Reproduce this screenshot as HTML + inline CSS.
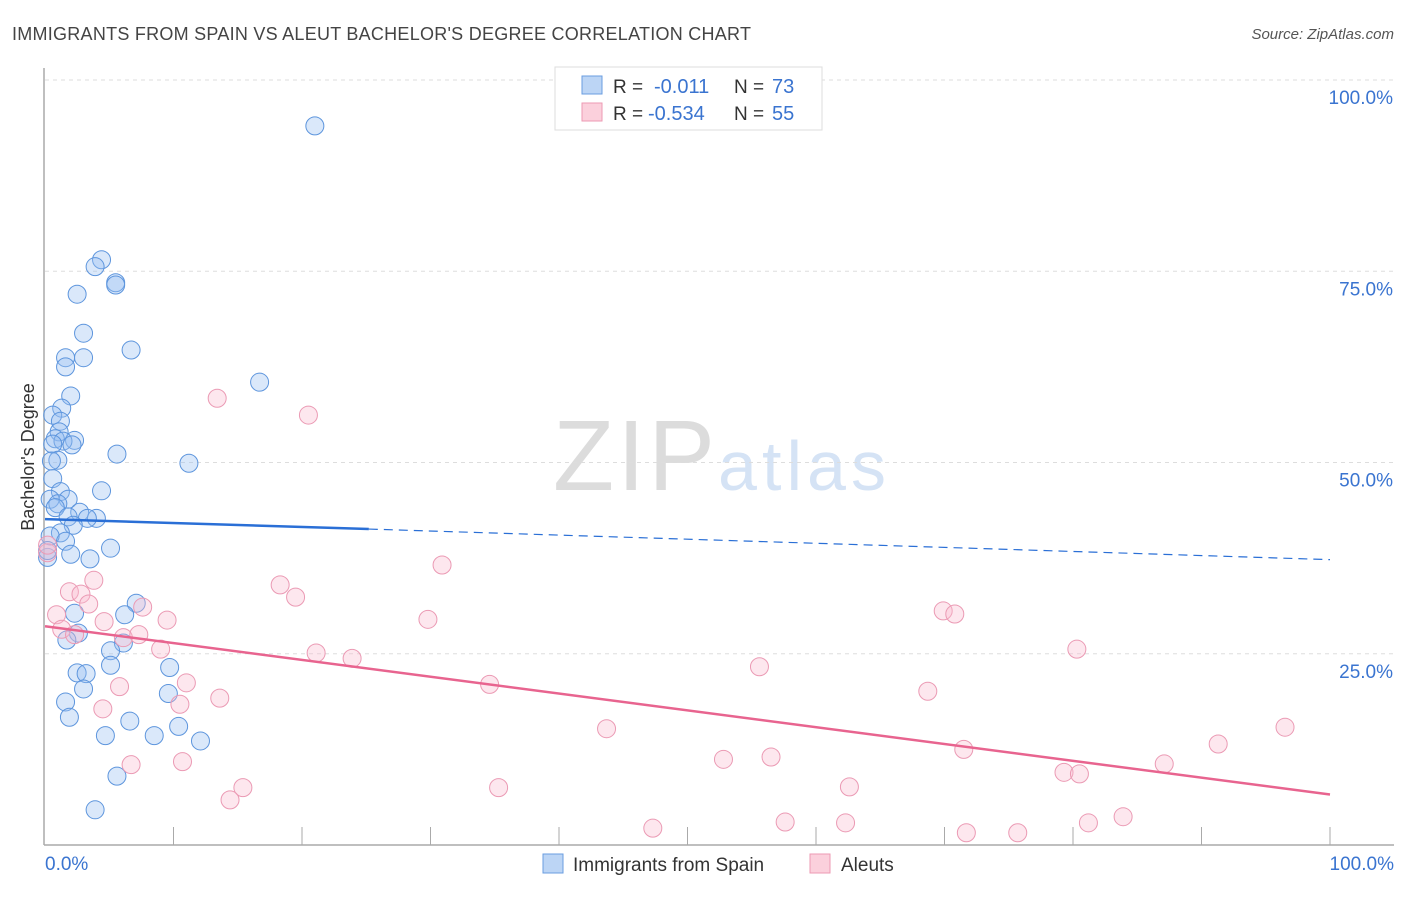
<!DOCTYPE html>
<html><head><meta charset="utf-8"><style>
body{margin:0;background:#fff;font-family:"Liberation Sans",sans-serif;}
svg text{font-family:"Liberation Sans",sans-serif;}
</style></head><body>
<svg width="1406" height="892">
<text x="12" y="40" font-size="18" fill="#444" textLength="739">IMMIGRANTS FROM SPAIN VS ALEUT BACHELOR'S DEGREE CORRELATION CHART</text>
<text x="1394" y="39" font-size="15" fill="#555" font-style="italic" text-anchor="end">Source: ZipAtlas.com</text>
<text x="553" y="490" font-size="100" fill="#dcdcdc" font-family="Liberation Serif" textLength="162">ZIP</text>
<text x="718" y="490" font-size="70" fill="#d5e3f5" textLength="168">atlas</text>
<g id="grid"></g>
<g id="axes"></g>
<g id="pts"></g>
<g id="trend"></g>
<text transform="translate(34,457) rotate(-90)" font-size="18" fill="#333" text-anchor="middle">Bachelor's Degree</text>
<text x="45" y="870" font-size="19" fill="#3a74d0">0.0%</text>
<text x="1394" y="870" font-size="19" fill="#3a74d0" text-anchor="end">100.0%</text>
<g>
<rect x="555" y="67" width="267" height="63" fill="#fff" stroke="#ddd"/>
<rect x="582" y="76" width="20" height="18" fill="#bcd5f5" stroke="#6a9de0"/>
<rect x="582" y="103" width="20" height="18" fill="#fbd0dc" stroke="#ec9ab3"/>
<text x="613" y="93" font-size="19" fill="#333">R =</text>
<text x="654" y="93" font-size="20" fill="#3a74d0">-0.011</text>
<text x="734" y="93" font-size="19" fill="#333">N =</text>
<text x="772" y="93" font-size="20" fill="#3a74d0">73</text>
<text x="613" y="120" font-size="19" fill="#333">R =</text>
<text x="648" y="120" font-size="20" fill="#3a74d0">-0.534</text>
<text x="734" y="120" font-size="19" fill="#333">N =</text>
<text x="772" y="120" font-size="20" fill="#3a74d0">55</text>
</g>
<g>
<rect x="543" y="854" width="20" height="19" fill="#bcd5f5" stroke="#6a9de0"/>
<text x="573" y="871" font-size="19" fill="#333">Immigrants from Spain</text>
<rect x="810" y="854" width="20" height="19" fill="#fbd0dc" stroke="#ec9ab3"/>
<text x="841" y="871" font-size="19" fill="#333">Aleuts</text>
</g>
</svg>
<script>
const yTicks=[25,50,75,100];
const yTickLabels=["25.0%","50.0%","75.0%","100.0%"];
const blueX=[21.0,4.4,3.9,5.5,5.5,2.5,3.0,6.7,1.6,3.0,1.6,16.7,2.0,1.3,0.6,1.2,1.1,2.3,0.8,1.4,2.1,5.6,0.6,1.0,0.5,11.2,0.6,4.4,1.2,1.8,0.4,1.0,0.8,2.7,1.8,4.0,3.3,2.2,1.2,0.4,1.6,5.1,3.5,2.0,0.2,0.2,7.1,6.2,2.3,2.6,1.7,6.1,5.1,5.1,2.5,3.2,3.0,9.7,9.6,1.6,1.9,6.6,10.4,4.7,8.5,12.1,5.6,3.9];
const blueY=[94.0,76.5,75.6,73.5,73.2,72.0,66.9,64.7,63.7,63.7,62.5,60.5,58.7,57.1,56.2,55.4,54.0,52.9,53.1,52.8,52.3,51.1,52.4,50.3,50.2,49.9,47.9,46.3,46.2,45.2,45.2,44.6,44.1,43.5,42.9,42.7,42.7,41.8,40.8,40.4,39.7,38.8,37.4,38.0,37.6,38.5,31.6,30.1,30.3,27.7,26.8,26.4,25.4,23.5,22.5,22.4,20.4,23.2,19.8,18.7,16.7,16.2,15.5,14.3,14.3,13.6,9.0,4.6];
const pinkX=[13.4,20.5,30.9,18.3,19.5,3.8,1.9,2.8,3.4,7.6,9.5,4.6,0.9,1.3,2.3,6.1,7.3,29.8,69.9,70.8,80.3,21.1,23.9,9.0,11.0,5.8,13.6,10.5,4.5,34.6,55.6,68.7,43.7,96.5,91.3,71.5,56.5,52.8,79.3,80.5,87.1,6.7,10.7,15.4,14.4,35.3,62.6,47.3,57.6,62.3,71.7,75.7,81.2,83.9,0.2,0.2];
const pinkY=[58.4,56.2,36.6,34.0,32.4,34.6,33.1,32.8,31.5,31.1,29.4,29.2,30.1,28.2,27.5,27.1,27.5,29.5,30.6,30.2,25.6,25.1,24.4,25.6,21.2,20.7,19.2,18.4,17.8,21.0,23.3,20.1,15.2,15.4,13.2,12.5,11.5,11.2,9.5,9.3,10.6,10.5,10.9,7.5,5.9,7.5,7.6,2.2,3.0,2.9,1.6,1.6,2.9,3.7,38.2,39.2];
const blueTrend=[[0,42.6],[25.2,41.3],[100,37.3]];
const pinkTrend=[[0,28.6],[100,6.6]];
const X=v=>45+v*12.85, Y=v=>845-v*7.65;
const NS="http://www.w3.org/2000/svg";
function mk(t,a,p){const e=document.createElementNS(NS,t);for(const k in a)e.setAttribute(k,a[k]);document.getElementById(p).appendChild(e);return e;}
yTicks.forEach((t,i)=>{
 const l=mk('line',{x1:45,x2:1394,y1:Y(t),y2:Y(t),stroke:'#ddd','stroke-dasharray':'4,4'},'grid');
 
 
 const tx=mk('text',{x:1393,y:Y(t)+24,'font-size':19,fill:'#3a74d0','text-anchor':'end'},'grid');
 tx.textContent=yTickLabels[i];
 
 
});
let a=mk('line',{x1:44,x2:44,y1:68,y2:845,stroke:'#aaa','stroke-width':1.5},'axes');


a=mk('line',{x1:44,x2:1394,y1:845,y2:845,stroke:'#aaa','stroke-width':1.5},'axes');


for(let i=1;i<=10;i++){const t=mk('line',{x1:X(i*10),x2:X(i*10),y1:827,y2:845,stroke:'#aaa'},'axes');
 
 }
blueX.forEach((v,i)=>{const c=mk('circle',{cx:X(v),cy:Y(blueY[i]),r:9,fill:'rgba(150,190,240,0.35)',stroke:'#5d95dd','stroke-width':1},'pts');
 
 });
pinkX.forEach((v,i)=>{const c=mk('circle',{cx:X(v),cy:Y(pinkY[i]),r:9,fill:'rgba(248,185,205,0.35)',stroke:'#eb9ab4','stroke-width':1},'pts');
 
 });
let t=mk('line',{x1:X(blueTrend[0][0]),y1:Y(blueTrend[0][1]),x2:X(blueTrend[1][0]),y2:Y(blueTrend[1][1]),stroke:'#2a6fd6','stroke-width':2.5},'trend');


t=mk('line',{x1:X(blueTrend[1][0]),y1:Y(blueTrend[1][1]),x2:X(blueTrend[2][0]),y2:Y(blueTrend[2][1]),stroke:'#2a6fd6','stroke-width':1.2,'stroke-dasharray':'9,6'},'trend');


t=mk('line',{x1:X(pinkTrend[0][0]),y1:Y(pinkTrend[0][1]),x2:X(pinkTrend[1][0]),y2:Y(pinkTrend[1][1]),stroke:'#e8648f','stroke-width':2.5},'trend');


</script>
</body></html>
